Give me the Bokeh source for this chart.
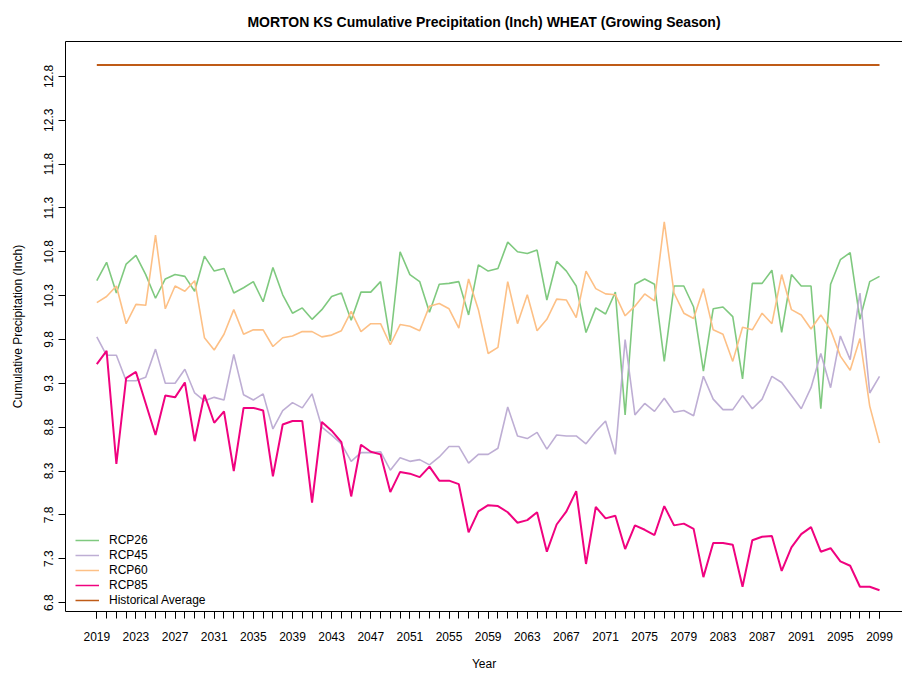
from bokeh.plotting import figure
from bokeh.models import (FixedTicker, PrintfTickFormatter, Legend, LegendItem,
                          Range1d, LinearAxis, ColumnDataSource)
from bokeh.embed import file_html
from bokeh.resources import INLINE

years = list(range(2019, 2100))
x_tick_years = list(range(2019, 2100, 4))
y_ticks = [6.8, 7.3, 7.8, 8.3, 8.8, 9.3, 9.8, 10.3, 10.8, 11.3, 11.8, 12.3, 12.8]

rcp26 = [
    10.47, 10.68, 10.33, 10.66, 10.76, 10.54, 10.27, 10.49, 10.54, 10.52,
    10.35, 10.75, 10.58, 10.61, 10.33, 10.39, 10.46, 10.23, 10.62, 10.31,
    10.10, 10.16, 10.03, 10.14, 10.29, 10.33, 10.02, 10.34, 10.34, 10.46,
    9.78, 10.80, 10.54, 10.46, 10.11, 10.43, 10.44, 10.46, 10.08, 10.65,
    10.58, 10.61, 10.91, 10.80, 10.78, 10.82, 10.25, 10.69, 10.58, 10.41,
    9.88, 10.16, 10.09, 10.34, 8.94, 10.43, 10.49, 10.43, 9.55, 10.41,
    10.41, 10.17, 9.44, 10.15, 10.17, 10.06, 9.35, 10.44, 10.44, 10.59,
    9.88, 10.54, 10.41, 10.41, 9.01, 10.43, 10.71, 10.79, 10.03, 10.46,
    10.52]

rcp45 = [
    9.83, 9.62, 9.62, 9.33, 9.33, 9.37, 9.69, 9.30, 9.30, 9.46,
    9.19, 9.10, 9.14, 9.11, 9.63, 9.17, 9.11, 9.18, 8.78, 8.99,
    9.08, 9.02, 9.18, 8.80, 8.71, 8.61, 8.41, 8.51, 8.51, 8.52,
    8.31, 8.45, 8.41, 8.43, 8.37, 8.46, 8.58, 8.58, 8.39, 8.49,
    8.49, 8.56, 9.03, 8.70, 8.67, 8.74, 8.55, 8.71, 8.70, 8.70,
    8.61, 8.75, 8.87, 8.49, 9.80, 8.94, 9.07, 8.98, 9.13, 8.97,
    8.99, 8.93, 9.38, 9.12, 9.00, 9.00, 9.16, 9.01, 9.12, 9.38,
    9.31, 9.16, 9.01, 9.25, 9.64, 9.25, 9.84, 9.57, 10.33, 9.19,
    9.38]

rcp60 = [
    10.22, 10.29, 10.41, 9.98, 10.20, 10.19, 10.99, 10.15, 10.41, 10.35,
    10.47, 9.82, 9.68, 9.86, 10.14, 9.86, 9.91, 9.91, 9.72, 9.82,
    9.84, 9.89, 9.89, 9.83, 9.85, 9.90, 10.12, 9.89, 9.98, 9.98,
    9.74, 9.97, 9.95, 9.90, 10.18, 10.21, 10.15, 9.93, 10.49, 10.14,
    9.64, 9.71, 10.46, 9.98, 10.31, 9.90, 10.03, 10.26, 10.25, 10.05,
    10.58, 10.38, 10.32, 10.31, 10.07, 10.18, 10.32, 10.24, 11.14, 10.33,
    10.10, 10.04, 10.38, 9.91, 9.86, 9.55, 9.94, 9.91, 10.10, 9.98,
    10.54, 10.14, 10.08, 9.92, 10.08, 9.91, 9.61, 9.45, 9.81, 9.04,
    8.62]

rcp85 = [
    9.52, 9.67, 8.38, 9.36, 9.43, 9.07, 8.71, 9.16, 9.14, 9.31,
    8.64, 9.17, 8.85, 8.98, 8.30, 9.02, 9.02, 8.99, 8.24, 8.83,
    8.87, 8.87, 7.94, 8.86, 8.76, 8.63, 8.01, 8.60, 8.52, 8.49,
    8.06, 8.29, 8.27, 8.23, 8.35, 8.19, 8.19, 8.15, 7.60, 7.84,
    7.91, 7.90, 7.83, 7.71, 7.74, 7.83, 7.38, 7.69, 7.84, 8.07,
    7.24, 7.89, 7.76, 7.79, 7.41, 7.68, 7.63, 7.57, 7.90, 7.68,
    7.70, 7.64, 7.09, 7.48, 7.48, 7.46, 6.98, 7.51, 7.55, 7.56,
    7.16, 7.43, 7.58, 7.66, 7.38, 7.42, 7.27, 7.22, 6.98, 6.98,
    6.94]

hist_avg = 12.93
historical = [hist_avg] * len(years)

series_names = ["RCP26", "RCP45", "RCP60", "RCP85", "Historical Average"]
series_values = [rcp26, rcp45, rcp60, rcp85, historical]
colors = ["#7FC97F", "#BEAED4", "#FDC086", "#F0027F", "#BF5B17"]
widths = [1.6, 1.6, 1.6, 2.0, 2.0]

FONT = "Liberation Sans"

p = figure(width=902, height=673, output_backend="svg", toolbar_location=None,
           x_range=Range1d(2015.8, 2101.35), y_range=Range1d(6.698, 13.198),
           min_border_left=65, min_border_right=0, min_border_top=41,
           min_border_bottom=60,
           title="MORTON KS Cumulative Precipitation (Inch) WHEAT (Growing Season)")
p.background_fill_color = "white"
p.border_fill_color = "white"
p.grid.visible = False
p.outline_line_color = None

p.title.align = "center"
p.title.text_font = FONT
p.title.text_font_size = "14px"
p.title.text_font_style = "bold"
p.title.text_color = "black"
p.title.standoff = 23
p.title.offset = 4

legend_renderers = []
for vals, col, w in zip(series_values, colors, widths):
    src = ColumnDataSource(data=dict(x=years, y=vals))
    p.line("x", "y", source=src, line_color=col, line_width=w)
    # hidden twin used only for the thin legend sample (like R's legend)
    legend_renderers.append(
        p.line("x", "y", source=src, line_color=col, line_width=1.5, visible=False))

# x axis
xa = p.xaxis[0]
xa.ticker = FixedTicker(ticks=x_tick_years, minor_ticks=years)
xa.axis_label = "Year"
xa.axis_label_text_font = FONT
xa.axis_label_text_font_size = "12px"
xa.axis_label_text_font_style = "normal"
xa.axis_label_text_color = "black"
xa.axis_label_standoff = 13
xa.major_label_text_font = FONT
xa.major_label_text_font_size = "12px"
xa.major_label_text_color = "black"
xa.major_label_standoff = 13
xa.major_tick_out = 7
xa.major_tick_in = 0
xa.minor_tick_out = 7
xa.minor_tick_in = 0
xa.axis_line_color = "black"
xa.major_tick_line_color = "black"
xa.minor_tick_line_color = "black"

# y axis
ya = p.yaxis[0]
ya.ticker = FixedTicker(ticks=y_ticks)
ya.formatter = PrintfTickFormatter(format="%.1f")
ya.axis_label = "Cumulative Precipitation (Inch)"
ya.axis_label_text_font = FONT
ya.axis_label_text_font_size = "12px"
ya.axis_label_text_font_style = "normal"
ya.axis_label_text_color = "black"
ya.axis_label_standoff = 17
ya.major_label_text_font = FONT
ya.major_label_text_font_size = "12px"
ya.major_label_text_color = "black"
ya.major_label_orientation = "vertical"
ya.major_label_standoff = 5
ya.major_tick_out = 7
ya.major_tick_in = 0
ya.minor_tick_line_color = None
ya.axis_line_color = "black"
ya.major_tick_line_color = "black"

# top border line
top = LinearAxis(ticker=FixedTicker(ticks=[]), major_tick_out=0, major_tick_in=0,
                 minor_tick_out=0, minor_tick_in=0, major_label_text_font_size="0px",
                 major_label_standoff=0, axis_line_color="black")
p.add_layout(top, "above")

items = [LegendItem(label=name, renderers=[r])
         for name, r in zip(series_names, legend_renderers)]
legend = Legend(items=items, location=(10, 4), border_line_color=None,
                background_fill_alpha=0, label_text_font=FONT,
                label_text_font_size="12px", label_text_color="black",
                glyph_width=24, glyph_height=14,
                label_height=14, label_standoff=10, spacing=1, padding=5, margin=0)
p.add_layout(legend)

open("out.html", "w").write(file_html(p, INLINE))
